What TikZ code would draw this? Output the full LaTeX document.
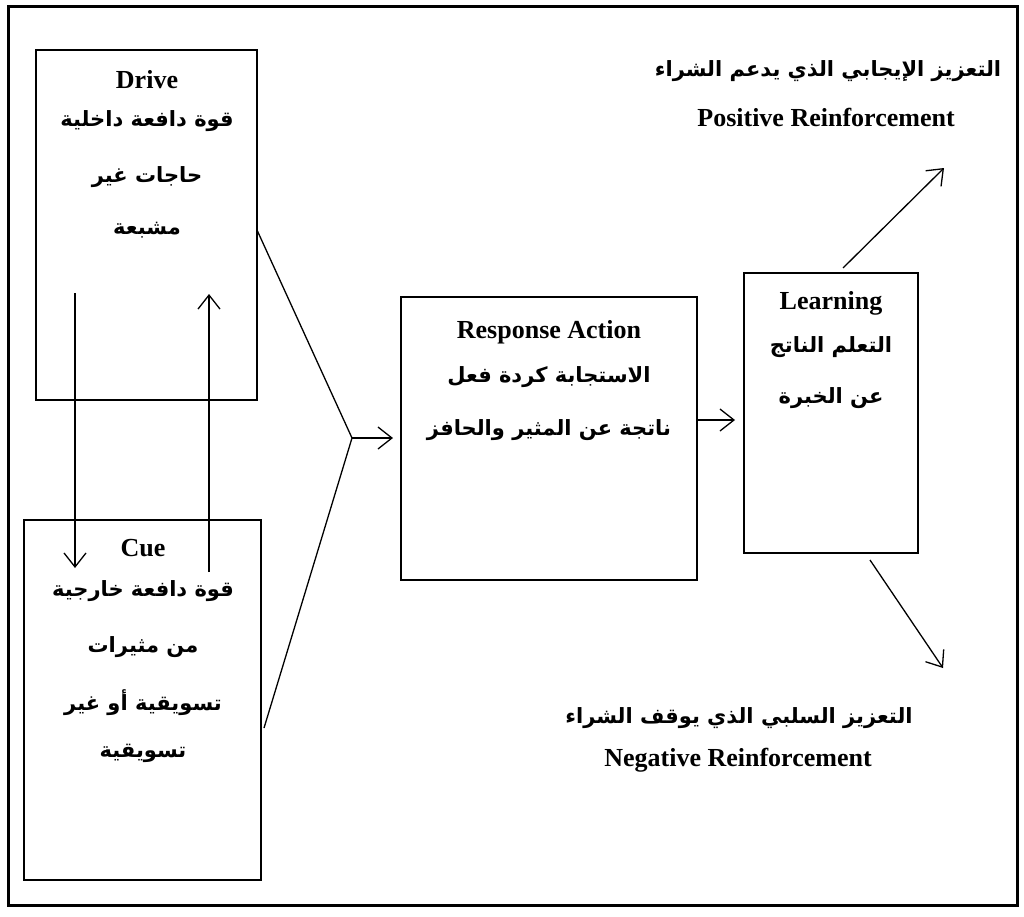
\documentclass[tikz,border=0pt]{standalone}
\usepackage{fontspec}
\setmainfont{Liberation Serif}
\newfontfamily\arabicfont[Script=Arabic]{DejaVu Sans}
\TeXXeTstate=1
\usetikzlibrary{arrows.meta}
\begin{document}
\begin{tikzpicture}[x=1pt,y=-1pt,
  box/.style={draw,line width=1.6pt,inner sep=0pt},
  en/.style={font=\fontsize{26}{28}\selectfont\bfseries,inner sep=0pt},
  ar/.style={font=\arabicfont\fontsize{21}{24}\selectfont\bfseries,inner sep=0pt},
  conn/.style={line width=1.3pt},
  arr/.style={conn,-{Straight Barb[length=14pt,width=22pt,line width=1.3pt]}}]
\useasboundingbox (0,0) rectangle (1024,916);
\node[draw,line width=3pt,minimum width=1009pt,minimum height=899pt,inner sep=0pt] (frame) at (512.5,455.5) {};
% boxes
\node[box,minimum width=221pt,minimum height=350pt] (drive) at (146.5,225) {};
\node[box,minimum width=237pt,minimum height=360pt] (cue) at (142.5,700) {};
\node[box,minimum width=296pt,minimum height=283pt] (resp) at (549,438.5) {};
\node[box,minimum width=174pt,minimum height=280pt] (learn) at (831,413) {};
% texts
\node[en] (tdrive) at (147,80) {Drive};
\node[ar] (d1) at (147,121) {\beginR قوة دافعة داخلية\endR};
\node[ar] (d2) at (147,177) {\beginR حاجات غير\endR};
\node[ar] (d3) at (147,230) {\beginR مشبعة\endR};
\node[en] (tcue) at (143,548) {Cue};
\node[ar] (c1) at (143,591) {\beginR قوة دافعة خارجية\endR};
\node[ar] (c2) at (143,647) {\beginR من مثيرات\endR};
\node[ar] (c3) at (143,703) {\beginR تسويقية أو غير\endR};
\node[ar] (c4) at (143,753) {\beginR تسويقية\endR};
\node[en] (tresp) at (549,332) {Response Action};
\node[ar] (r1) at (549,377) {\beginR الاستجابة كردة فعل\endR};
\node[ar] (r2) at (549,430) {\beginR ناتجة عن المثير والحافز\endR};
\node[en] (tlearn) at (831,303) {Learning};
\node[ar] (l1) at (831,347) {\beginR التعلم الناتج\endR};
\node[ar] (l2) at (831,398) {\beginR عن الخبرة\endR};
\node[ar] (p1) at (828,71) {\beginR التعزيز الإيجابي الذي يدعم الشراء\endR};
\node[en] (p2) at (826,117) {Positive Reinforcement};
\node[ar] (n1) at (739,718) {\beginR التعزيز السلبي الذي يوقف الشراء\endR};
\node[en] (n2) at (738,760) {Negative Reinforcement};
% connectors
\coordinate (dd1) at (75,293);
\coordinate (dd2) at (75,568);
\coordinate (du1) at (209,572);
\coordinate (du2) at (209,294);
\coordinate (dr) at (257,230);
\coordinate (cr) at (264,728);
\coordinate (conv) at (352,438);
\coordinate (convend) at (393,438);
\coordinate (ra) at (697,420);
\coordinate (la) at (735,420);
\coordinate (lt) at (843,268);
\coordinate (pt) at (944,168);
\coordinate (lb) at (870,560);
\coordinate (nb) at (943,668);
\draw[arr] (dd1) -- (dd2);
\draw[arr] (du1) -- (du2);
\draw[conn] (dr) -- (conv) -- (cr);
\draw[arr] (conv) -- (convend);
\draw[arr] (ra) -- (la);
\draw[arr] (lt) -- (pt);
\draw[arr] (lb) -- (nb);
\end{tikzpicture}
\end{document}
